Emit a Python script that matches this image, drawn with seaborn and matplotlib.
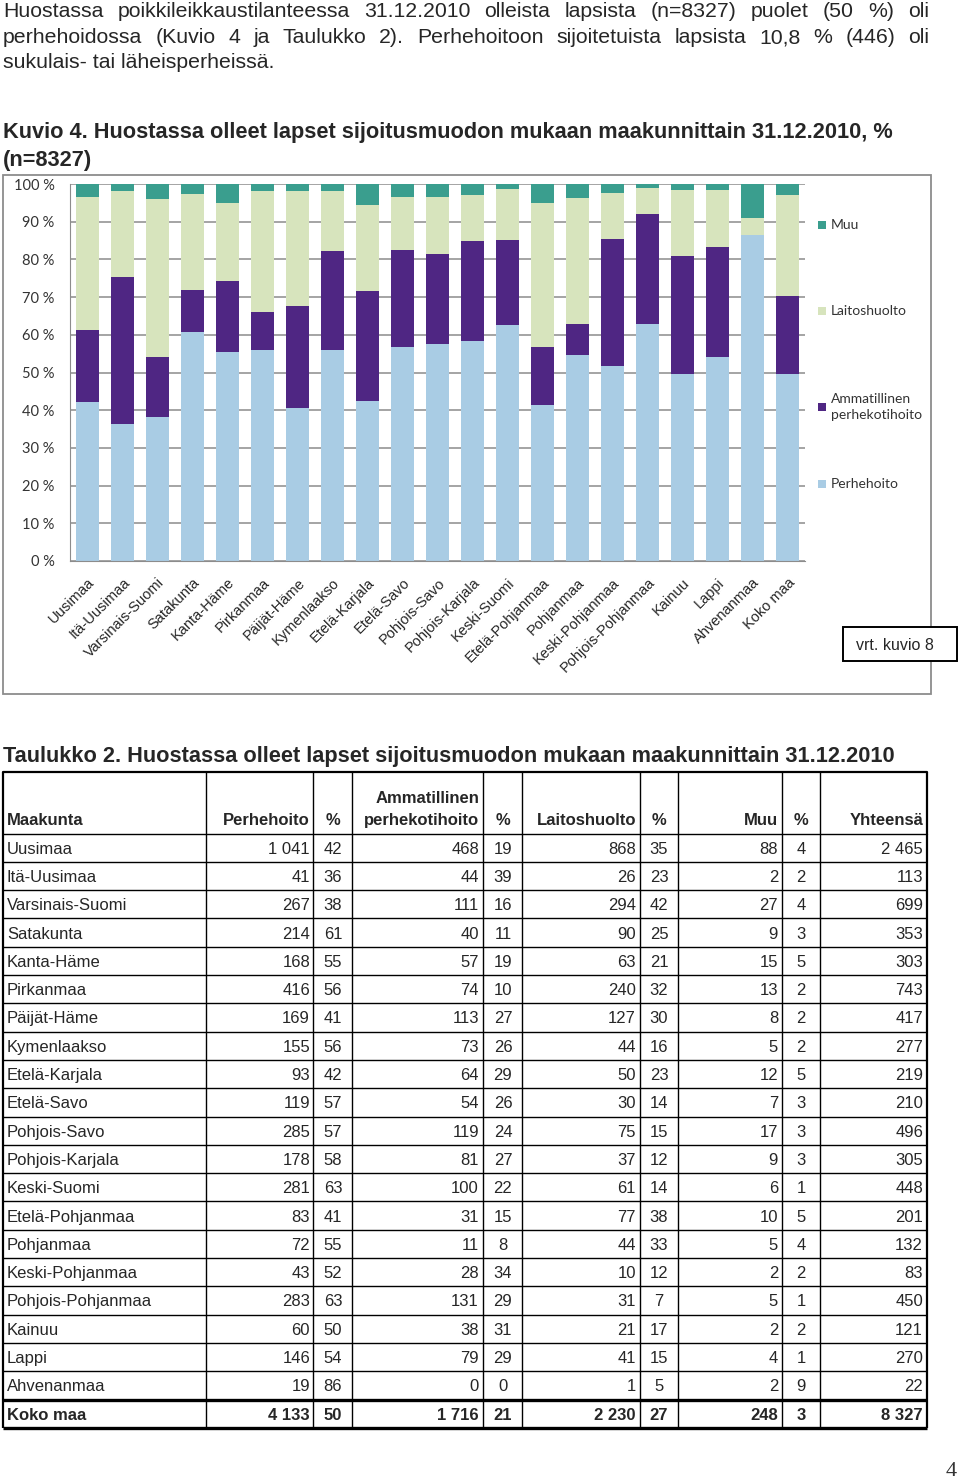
import numpy as np
import pandas as pd
import matplotlib
matplotlib.use('Agg')
import matplotlib.pyplot as plt
from matplotlib.patches import Rectangle
from matplotlib.transforms import ScaledTranslation
import seaborn as sns

# data (Taulukko 2)
regions = ['Uusimaa', 'Itä-Uusimaa', 'Varsinais-Suomi', 'Satakunta', 'Kanta-Häme',
           'Pirkanmaa', 'Päijät-Häme', 'Kymenlaakso', 'Etelä-Karjala', 'Etelä-Savo',
           'Pohjois-Savo', 'Pohjois-Karjala', 'Keski-Suomi', 'Etelä-Pohjanmaa',
           'Pohjanmaa', 'Keski-Pohjanmaa', 'Pohjois-Pohjanmaa', 'Kainuu', 'Lappi',
           'Ahvenanmaa', 'Koko maa']
perhe = [1041, 41, 267, 214, 168, 416, 169, 155, 93, 119, 285, 178, 281, 83, 72, 43, 283, 60, 146, 19, 4133]
perhe_pct = [42, 36, 38, 61, 55, 56, 41, 56, 42, 57, 57, 58, 63, 41, 55, 52, 63, 50, 54, 86, 50]
amm = [468, 44, 111, 40, 57, 74, 113, 73, 64, 54, 119, 81, 100, 31, 11, 28, 131, 38, 79, 0, 1716]
amm_pct = [19, 39, 16, 11, 19, 10, 27, 26, 29, 26, 24, 27, 22, 15, 8, 34, 29, 31, 29, 0, 21]
laitos = [868, 26, 294, 90, 63, 240, 127, 44, 50, 30, 75, 37, 61, 77, 44, 10, 31, 21, 41, 1, 2230]
laitos_pct = [35, 23, 42, 25, 21, 32, 30, 16, 23, 14, 15, 12, 14, 38, 33, 12, 7, 17, 15, 5, 27]
muu = [88, 2, 27, 9, 15, 13, 8, 5, 12, 7, 17, 9, 6, 10, 5, 2, 5, 2, 4, 2, 248]
muu_pct = [4, 2, 4, 3, 5, 2, 2, 2, 5, 3, 3, 3, 1, 5, 4, 2, 1, 2, 1, 9, 3]
total = [2465, 113, 699, 353, 303, 743, 417, 277, 219, 210, 496, 305, 448, 201, 132, 83, 450, 121, 270, 22, 8327]

series = ['Perhehoito', 'Ammatillinen\nperhekotihoito', 'Laitoshuolto', 'Muu']
colors = ['#A9CCE4', '#4F2683', '#D7E4BD', '#3A9E8E']

paragraph = [
    'Huostassa poikkileikkaustilanteessa 31.12.2010 olleista lapsista (n=8327) puolet (50 %) oli',
    'perhehoidossa (Kuvio 4 ja Taulukko 2). Perhehoitoon sijoitetuista lapsista 10,8 % (446) oli',
    'sukulais- tai läheisperheissä.',
]
fig_title = ['Kuvio 4. Huostassa olleet lapset sijoitusmuodon mukaan maakunnittain 31.12.2010, %',
             '(n=8327)']
table_title = 'Taulukko 2. Huostassa olleet lapset sijoitusmuodon mukaan maakunnittain 31.12.2010'

df = pd.DataFrame({'region': regions, 'Perhehoito': perhe, 'Amm': amm,
                   'Laitoshuolto': laitos, 'Muu': muu})
parts = df[['Perhehoito', 'Amm', 'Laitoshuolto', 'Muu']]
shares = parts.div(parts.sum(axis=1), axis=0) * 100
cum = shares.cumsum(axis=1)
cum['region'] = regions

sns.set_style('white')
plt.rcParams['font.family'] = ['Liberation Sans', 'DejaVu Sans']

W, H = 960, 1482
fig = plt.figure(figsize=(W / 100, H / 100), dpi=100)

# page layer in pixel coordinates
page = fig.add_axes([0, 0, 1, 1])
page.set_xlim(0, W)
page.set_ylim(H, 0)
page.axis('off')

renderer = fig.canvas.get_renderer()


def justify(line, y, x0, x1, **kw):
    words = line.split(' ')
    objs = [page.text(0, y, w, va='baseline', ha='left', **kw) for w in words]
    widths = [o.get_window_extent(renderer).width for o in objs]
    gap = (x1 - x0 - sum(widths)) / (len(words) - 1)
    x = x0
    for o, w in zip(objs, widths):
        o.set_x(x)
        x += w + gap


justify(paragraph[0], 17, 3, 929, fontsize=15.3)
justify(paragraph[1], 43, 3, 929, fontsize=15.3)
page.text(3, 68, paragraph[2], va='baseline', fontsize=15.3)
page.text(3, 138, fig_title[0], va='baseline', fontsize=15.7, fontweight='bold')
page.text(3, 166, fig_title[1], va='baseline', fontsize=15.7, fontweight='bold')

# chart frame
page.add_patch(Rectangle((3, 175), 928, 519, fill=False, ec='#8C8C8C', lw=1.3))

# stacked chart
ax = fig.add_axes([70 / W, 1 - 561 / H, 735 / W, 377 / H])
layers = ['Muu', 'Laitoshuolto', 'Amm', 'Perhehoito']
layer_colors = dict(zip(['Perhehoito', 'Amm', 'Laitoshuolto', 'Muu'], colors))
for col in layers:
    sns.barplot(data=cum, x='region', y=col, color=layer_colors[col], saturation=1,
                width=0.63, errorbar=None, linewidth=0, ax=ax)
ax.set_xlim(-0.5, len(regions) - 0.5)
ax.set_ylim(0, 100)
ax.set_xlabel('')
ax.set_ylabel('')
ax.set_yticks(range(0, 101, 10))
ax.set_yticklabels([f'{v} %' for v in range(0, 101, 10)], family=['Lato', 'DejaVu Sans'],
                   fontsize=10.5, color='#333333')
ax.yaxis.grid(True, color='#8C8C8C', lw=1.1)
ax.set_axisbelow(True)
for s in ['top', 'right']:
    ax.spines[s].set_visible(False)
ax.spines['left'].set_color('#8C8C8C')
ax.spines['bottom'].set_color('#8C8C8C')
ax.tick_params(axis='y', length=6, color='#8C8C8C', pad=5)
ax.tick_params(axis='x', length=0, pad=14)
ax.set_xticks(range(len(regions)))
ax.set_xticklabels(regions, rotation=45, ha='right', va='center', rotation_mode='anchor',
                   fontsize=10.5)
for lab in ax.get_xticklabels():
    lab.set_transform(lab.get_transform() + ScaledTranslation(5 / 100, 0, fig.dpi_scale_trans))

# legend
leg_y = [225, 311, 407, 484]
for name, c, y in zip(series[::-1], colors[::-1], leg_y):
    page.add_patch(Rectangle((818, y - 4), 8, 8, color=c, lw=0))
    page.text(831, y, name, va='center', ha='left', fontsize=10, color='#333333',
              family=['Lato', 'DejaVu Sans'], linespacing=1.45)

# note box
page.add_patch(Rectangle((843, 627), 114, 34, fill=True, fc='white', ec='black', lw=1.4, zorder=5))
page.text(895, 645, 'vrt. kuvio 8', ha='center', va='center', fontsize=11.5, zorder=6)

# table
page.text(3, 762, table_title, va='baseline', fontsize=15.7, fontweight='bold')
cols = [3, 206, 313, 352, 483, 522, 640, 678, 782, 820, 927]
top, head_bot, row_h = 772, 833.5, 28.3
n = len(regions)
bottom = head_bot + n * row_h
for x in cols:
    lw = 1.6 if x in (3, 927) else 1.0
    page.plot([x, x], [top, bottom], color='black', lw=lw, solid_capstyle='butt')
page.plot([3, 927], [top, top], color='black', lw=1.6)
page.plot([3, 927], [head_bot, head_bot], color='black', lw=1.0)
for i in range(1, n + 1):
    y = head_bot + i * row_h
    lw = 2.4 if i in (n - 1, n) else 1.0
    page.plot([3, 927], [y, y], color='black', lw=lw, solid_capstyle='butt')

hb = dict(fontsize=12, fontweight='bold', va='baseline')
page.text(7, 825, 'Maakunta', ha='left', **hb)
page.text(310, 825, 'Perhehoito', ha='right', **hb)
page.text(333, 825, '%', ha='center', **hb)
page.text(479, 803, 'Ammatillinen', ha='right', **hb)
page.text(479, 825, 'perhekotihoito', ha='right', **hb)
page.text(503, 825, '%', ha='center', **hb)
page.text(636, 825, 'Laitoshuolto', ha='right', **hb)
page.text(659, 825, '%', ha='center', **hb)
page.text(778, 825, 'Muu', ha='right', **hb)
page.text(801, 825, '%', ha='center', **hb)
page.text(923, 825, 'Yhteensä', ha='right', **hb)


def fmt(v):
    return f'{v:,}'.replace(',', ' ')


rows = zip(regions, perhe, perhe_pct, amm, amm_pct, laitos, laitos_pct, muu, muu_pct, total)
for i, r in enumerate(rows):
    yc = head_bot + (i + 0.5) * row_h + 1.5
    fw = 'bold' if i == n - 1 else 'normal'
    kw = dict(fontsize=12, va='center', fontweight=fw)
    page.text(7, yc, r[0], ha='left', **kw)
    page.text(310, yc, fmt(r[1]), ha='right', **kw)
    page.text(333, yc, str(r[2]), ha='center', **kw)
    page.text(479, yc, fmt(r[3]), ha='right', **kw)
    page.text(503, yc, str(r[4]), ha='center', **kw)
    page.text(636, yc, fmt(r[5]), ha='right', **kw)
    page.text(659, yc, str(r[6]), ha='center', **kw)
    page.text(778, yc, fmt(r[7]), ha='right', **kw)
    page.text(801, yc, str(r[8]), ha='center', **kw)
    page.text(923, yc, fmt(r[9]), ha='right', **kw)

page.text(951, 1472, '4', ha='center', va='center', fontsize=16, color='#333333',
          family=['Liberation Serif', 'DejaVu Serif'])

fig.savefig('out.png', dpi=100)
